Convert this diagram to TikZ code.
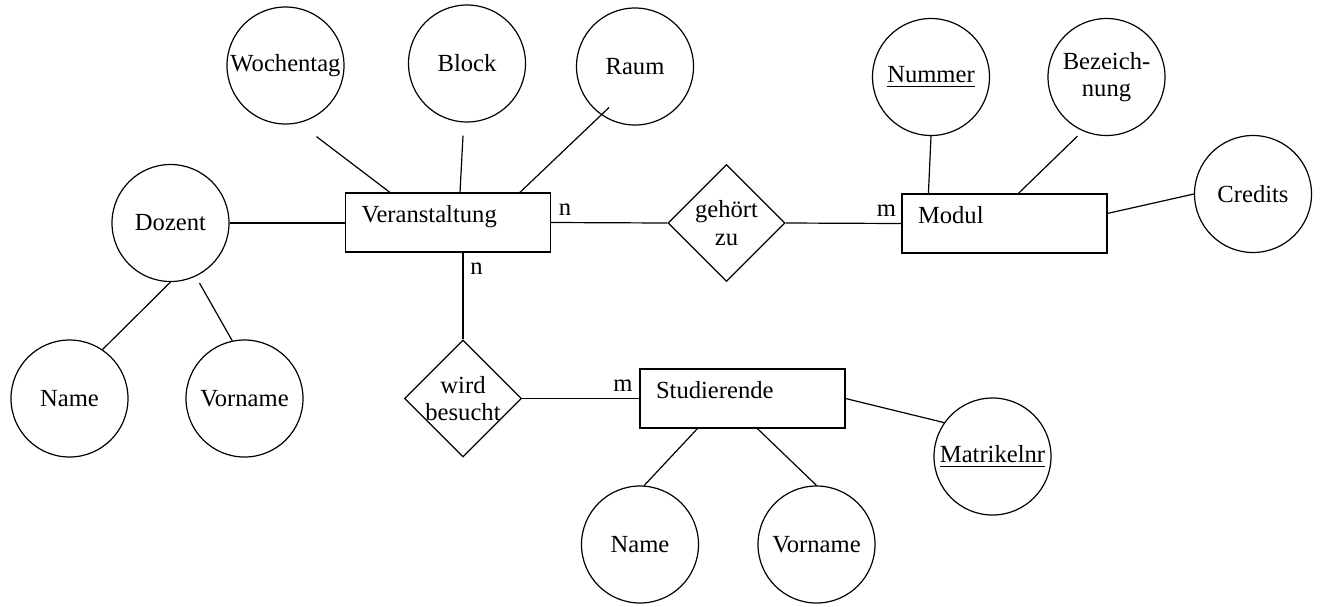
\documentclass[tikz,border=0pt]{standalone}
\usepackage{fontspec}
\setmainfont{Liberation Serif}
\usetikzlibrary{shapes,positioning,calc}

\begin{document}
\begin{tikzpicture}[x=0.5pt, y=-0.5pt, line width=0.6pt,
    every node/.append style={font=\fontsize{12.3}{13.75}\selectfont},
    attr/.style={draw, circle, minimum size=58.5pt, inner sep=0pt, align=center},
    entity/.style={draw, rectangle, text width=86.5pt, inner xsep=8pt, inner ysep=0pt, minimum height=29.5pt, align=left, text height=8.5pt, text depth=8.5pt},
    relship/.style={draw, diamond, aspect=1, minimum width=58.5pt, minimum height=58.5pt, inner sep=0pt}]
  \useasboundingbox (0,0) rectangle (1320,606);

  % entities and relationships
  \node[entity] (vera) at (448,222.5) {Veranstaltung};
  \node[entity] (modul) at (1004.5,223.5) {Modul};
  \node[entity] (stud) at (742.5,398.5) {Studierende};
  \node[relship, label={[align=center]center:gehört\\zu}] (gehoert) at (726.5,223) {};
  \node[relship, label={[align=center]center:wird\\besucht}] (besucht) at (463,398.5) {};

  % attributes
  \node[attr] (wochentag) at (285.5,65.5) {Wochentag};
  \node[attr] (block) at (467,63.5) {Block};
  \node[attr] (raum) at (635,66.5) {Raum};
  \node[attr] (dozent) at (170.5,223) {Dozent};
  \node[attr] (dname) at (69.5,398.5) {Name};
  \node[attr] (dvorname) at (244.5,398.5) {Vorname};
  \node[attr] (nummer) at (931,77) {\underline{Nummer}};
  \node[attr] (bez) at (1106.5,77) {Bezeich-\\nung};
  \node[attr] (credits) at (1253,194) {Credits};
  \node[attr] (matrikel) at (992.5,456.5) {\underline{Matrikelnr}};
  \node[attr] (sname) at (640,544.5) {Name};
  \node[attr] (svorname) at (816.5,544.5) {Vorname};

  % relationship lines
  \draw (vera.east) -- node[pos=.12, above] {n} (gehoert.west);
  \draw (gehoert.east) -- node[pos=.87, above] {m} (modul.west);
  \draw (besucht.north |- vera.south) -- node[pos=.18, right] {n} (besucht.north);
  \draw (besucht.east) -- node[pos=.86, above] {m} (stud.west);

  % attribute lines
  \draw ($(vera.north west)+(45,0)$) -- ($(wochentag.south)+(31,12)$);
  \draw ($(vera.north)+(12,0)$) -- ($(block.south)+(-4,13)$);
  \draw ($(vera.north west)+(175,0)$) -- ($(raum.center)+(-26,41)$);
  \draw (dozent.east) -- (dozent.east -| vera.west);
  \draw (dozent.south) -- (dname.56);
  \draw ($(dozent.south)+(29,1)$) -- (dvorname.102);
  \draw (nummer.south) -- ($(modul.north west)+(27,0)$);
  \draw ($(bez.south)+(-29,0)$) -- ($(modul.north west)+(117,0)$);
  \draw ($(modul.north east)+(0,20)$) -- (credits.west);
  \draw (stud.east) -- (matrikel.145);
  \draw ($(stud.south west)+(58,0)$) -- (sname.86);
  \draw ($(stud.south west)+(118,0)$) -- (svorname.north);
\end{tikzpicture}
\end{document}
